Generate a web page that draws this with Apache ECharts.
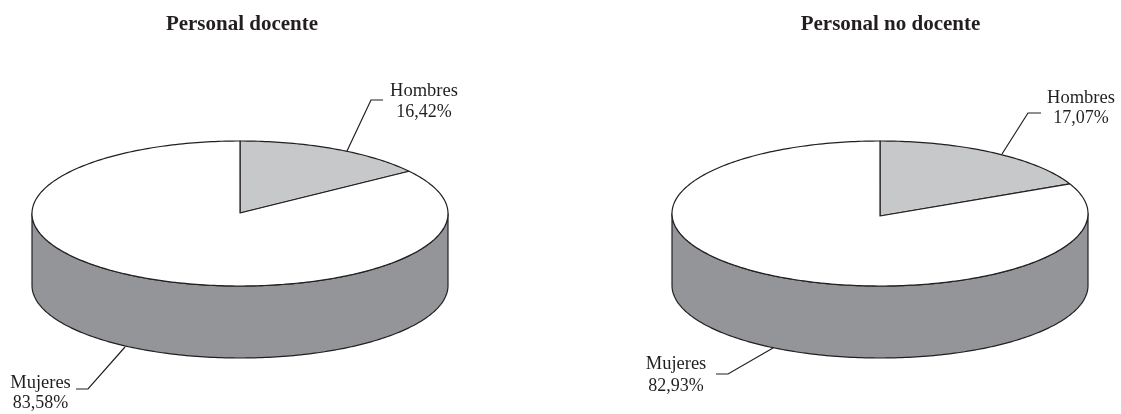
<!DOCTYPE html>
<html>
<head>
<meta charset="utf-8">
<title>Personal docente / no docente</title>
<style>
    html, body { margin: 0; padding: 0; background: #fff; }
    #chart { width: 1121px; height: 414px; }
</style>
<script src="https://cdn.jsdelivr.net/npm/echarts@6/dist/echarts.min.js"></script>
</head>
<body>
<div id="chart"></div>
<script>
var titles = ['Personal docente', 'Personal no docente'];
var categories = ['Hombres', 'Mujeres'];

// printed labels
var printedDocente = ['16,42%', '83,58%'];
var printedNoDocente = ['17,07%', '82,93%'];

// share of the disc as it is drawn in the picture (the tilted drawing does not follow the printed figures exactly)
var drawnDocente = [15.1, 84.9];
var drawnNoDocente = [18.3, 81.7];

var INK = '#231f20';
var SERIF = '"Liberation Serif", "Times New Roman", serif';
var colors = {Hombres: '#c7c8ca', Mujeres: '#ffffff', wall: '#939598'};

var pies = [{
    name: titles[0], printed: printedDocente, drawn: drawnDocente, titleLeft: 237,
    cx: 240, cy: 213.5, rx: 208, ry: 72.5, depth: 72, apexY: 213,
    labels: [
        {x: 424, y: [91, 112], leader: [[347, 151], [371, 100], [383, 100]]},
        {x: 40.5, y: [383, 403], leader: [[125, 347], [88, 389], [76, 389]]}
    ]
}, {
    name: titles[1], printed: printedNoDocente, drawn: drawnNoDocente, titleLeft: 885.5,
    cx: 880, cy: 213.5, rx: 208, ry: 72.5, depth: 72, apexY: 216,
    labels: [
        {x: 1081, y: [98, 118], leader: [[1002, 154], [1028, 113], [1041, 113]]},
        {x: 676, y: [364, 386], leader: [[773, 348], [728, 374], [716, 374]]}
    ]
}];

function rimPoint(pie, deg, drop) {
    var a = deg * Math.PI / 180;
    return [pie.cx + pie.rx * Math.sin(a), pie.cy - pie.ry * Math.cos(a) + (drop || 0)];
}

function rimArc(pie, from, to, drop) {
    var pts = [];
    var n = Math.max(2, Math.ceil(Math.abs(to - from)));
    for (var i = 0; i <= n; i++) {
        pts.push(rimPoint(pie, from + (to - from) * i / n, drop));
    }
    return pts;
}

function textEl(text, x, y, size, weight) {
    return {
        type: 'text',
        style: {
            text: text, x: x, y: y, fill: INK,
            textAlign: 'center', textVerticalAlign: 'middle',
            font: weight + ' ' + size + 'px ' + SERIF
        }
    };
}

function renderSlice(pie) {
    return function (params, api) {
        var start = api.value(0) * 3.6;
        var end = (api.value(0) + api.value(1)) * 3.6;
        var children = [];
        var lineStyle = {stroke: INK, lineWidth: 1.2, lineJoin: 'round'};

        // wall only on the front half
        var wallFrom = Math.max(start, 90);
        var wallTo = Math.min(end, 270);
        if (wallTo > wallFrom) {
            var wall = rimArc(pie, wallFrom, wallTo, 0).concat(rimArc(pie, wallTo, wallFrom, pie.depth));
            children.push({
                type: 'polygon',
                shape: {points: wall},
                style: Object.assign({fill: colors.wall}, lineStyle)
            });
        }

        var top = [[pie.cx, pie.apexY]].concat(rimArc(pie, start, end, 0));
        children.push({
            type: 'polygon',
            shape: {points: top},
            style: Object.assign({fill: colors[categories[params.dataIndex]]}, lineStyle)
        });

        var label = pie.labels[params.dataIndex];
        children.push({
            type: 'polyline',
            shape: {points: label.leader},
            style: {stroke: INK, lineWidth: 1.2, fill: null}
        });
        children.push(textEl(categories[params.dataIndex], label.x, label.y[0], 18.5, 'normal'));
        children.push(textEl(pie.printed[params.dataIndex], label.x, label.y[1], 18, 'normal'));
        return {type: 'group', children: children};
    };
}

function sliceData(drawn) {
    var acc = 0;
    return drawn.map(function (v, i) {
        var row = {name: categories[i], value: [acc, v]};
        acc += v;
        return row;
    });
}

var chart = echarts.init(document.getElementById('chart'));
chart.setOption({
    animation: false,
    backgroundColor: '#ffffff',
    title: pies.map(function (pie) {
        return {
            text: pie.name,
            left: pie.titleLeft,
            top: 9,
            textAlign: 'center',
            textStyle: {fontFamily: SERIF, fontSize: 21, fontWeight: 'bold', color: INK}
        };
    }),
    series: pies.map(function (pie) {
        return {
            type: 'custom',
            name: pie.name,
            coordinateSystem: 'none',
            silent: true,
            renderItem: renderSlice(pie),
            data: sliceData(pie.drawn)
        };
    })
});
</script>
</body>
</html>
